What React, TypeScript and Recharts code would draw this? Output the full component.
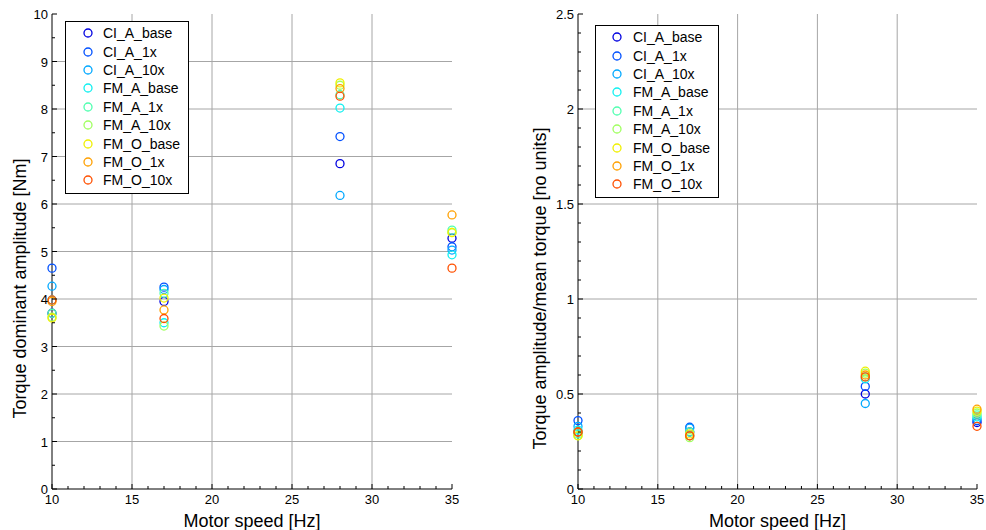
import React from "react";
import { ScatterChart, Scatter, XAxis, YAxis, ReferenceLine } from "recharts";

const speeds = [10, 17, 28, 35];

const seriesNames = [
  "CI_A_base",
  "CI_A_1x",
  "CI_A_10x",
  "FM_A_base",
  "FM_A_1x",
  "FM_A_10x",
  "FM_O_base",
  "FM_O_1x",
  "FM_O_10x",
];

const seriesColors = [
  "#0000e0",
  "#0050ff",
  "#00a8ff",
  "#10f0f0",
  "#50ffb0",
  "#a0ff60",
  "#f0f000",
  "#ffa000",
  "#ff5000",
];

// torque dominant amplitude [Nm], one row per series, one value per speed
const amplitude = [
  [3.7, 3.95, 6.85, 5.28],
  [4.65, 4.25, 7.42, 5.1],
  [4.27, 4.2, 6.18, 5.03],
  [3.98, 3.5, 8.02, 4.93],
  [3.7, 4.12, 8.3, 5.45],
  [3.62, 3.43, 8.5, 5.4],
  [3.6, 4.02, 8.55, 5.4],
  [3.95, 3.77, 8.43, 5.77],
  [3.98, 3.59, 8.27, 4.65],
];

// torque amplitude / mean torque [no units]
const ratio = [
  [0.3, 0.3, 0.5, 0.35],
  [0.36, 0.325, 0.54, 0.36],
  [0.33, 0.32, 0.45, 0.37],
  [0.31, 0.28, 0.58, 0.38],
  [0.29, 0.3, 0.59, 0.39],
  [0.28, 0.27, 0.61, 0.4],
  [0.28, 0.29, 0.62, 0.41],
  [0.3, 0.28, 0.6, 0.42],
  [0.3, 0.28, 0.59, 0.33],
];

const xMajor = [10, 15, 20, 25, 30, 35];
const xMinor = [
  10, 11, 12, 13, 14, 15, 16, 17, 18, 19, 20, 21, 22, 23, 24, 25, 26, 27, 28,
  29, 30, 31, 32, 33, 34, 35,
];
const leftYMajor = [0, 1, 2, 3, 4, 5, 6, 7, 8, 9, 10];
const leftYMinor = [
  0, 0.5, 1, 1.5, 2, 2.5, 3, 3.5, 4, 4.5, 5, 5.5, 6, 6.5, 7, 7.5, 8, 8.5, 9,
  9.5, 10,
];
const rightYMajor = [0, 0.5, 1, 1.5, 2, 2.5];
const rightYMinor = [
  0, 0.1, 0.2, 0.3, 0.4, 0.5, 0.6, 0.7, 0.8, 0.9, 1, 1.1, 1.2, 1.3, 1.4, 1.5,
  1.6, 1.7, 1.8, 1.9, 2, 2.1, 2.2, 2.3, 2.4, 2.5,
];

const FONT = "'Liberation Sans', Arial, sans-serif";
const GRID = "#a6a6a6";

function Ring(props: any) {
  const { cx, cy, fill } = props;
  if (cx == null || cy == null) return null;
  return <circle cx={cx} cy={cy} r={4} fill="none" stroke={fill} strokeWidth={1.3} />;
}

function isMajor(v: number, majors: number[]) {
  return majors.some((m) => Math.abs(m - v) < 1e-9);
}

function LegendBox({ left, top, markerX }: { left: number; top: number; markerX: number }) {
  return (
    <div
      style={{
        position: "absolute",
        left,
        top,
        width: 124,
        border: "1px solid #000",
        background: "#fff",
        padding: "2px 0 3px 0",
        fontFamily: FONT,
        fontSize: 14,
        boxSizing: "border-box",
      }}
    >
      {seriesNames.map((n, i) => (
        <div key={n} style={{ display: "flex", alignItems: "center", height: 18.4 }}>
          <svg width={37} height={14} style={{ flex: "none" }}>
            <circle cx={markerX} cy={7} r={4} fill="none" stroke={seriesColors[i]} strokeWidth={1.3} />
          </svg>
          <span style={{ color: "#000", whiteSpace: "nowrap" }}>{n}</span>
        </div>
      ))}
    </div>
  );
}

function Panel({
  values,
  yMax,
  yMajor,
  yMinor,
  yLabel,
  yWidth,
  yLabelX,
  rightMargin,
  legend,
}: {
  values: number[][];
  yMax: number;
  yMajor: number[];
  yMinor: number[];
  yLabel: string;
  yWidth: number;
  yLabelX: number;
  rightMargin: number;
  legend: { left: number; top: number; markerX: number };
}) {
  const bottomTick = (p: any) => {
    const v = p.payload.value;
    const major = isMajor(v, xMajor);
    return (
      <g>
        <line x1={p.x} y1={p.y} x2={p.x} y2={p.y - (major ? 5 : 3)} stroke="#000" />
        {major && (
          <text x={p.x} y={p.y + 15} textAnchor="middle" fontFamily={FONT} fontSize={13} fill="#000">
            {v}
          </text>
        )}
      </g>
    );
  };
  const topTick = (p: any) => {
    const major = isMajor(p.payload.value, xMajor);
    return <line x1={p.x} y1={p.y} x2={p.x} y2={p.y + (major ? 5 : 3)} stroke="#000" />;
  };
  const leftTick = (p: any) => {
    const v = p.payload.value;
    const major = isMajor(v, yMajor);
    return (
      <g>
        <line x1={p.x} y1={p.y} x2={p.x + (major ? 5 : 3)} y2={p.y} stroke="#000" />
        {major && (
          <text x={p.x - 4} y={p.y + 5} textAnchor="end" fontFamily={FONT} fontSize={13} fill="#000">
            {v}
          </text>
        )}
      </g>
    );
  };
  const rightTick = (p: any) => {
    const major = isMajor(p.payload.value, yMajor);
    return <line x1={p.x} y1={p.y} x2={p.x - (major ? 5 : 3)} y2={p.y} stroke="#000" />;
  };
  const yLabelContent = (p: any) => {
    const vb = p.viewBox || {};
    const cx = (vb.x ?? 0) + yLabelX;
    const cy = (vb.y ?? 0) + (vb.height ?? 0) / 2 + 37;
    return (
      <text
        x={cx}
        y={cy}
        transform={`rotate(-90 ${cx} ${cy})`}
        textAnchor="middle"
        dominantBaseline="central"
        fontFamily={FONT}
        fontSize={18}
        fill="#000"
      >
        {yLabel}
      </text>
    );
  };

  return (
    <div style={{ position: "relative", width: 493, height: 530 }}>
      <ScatterChart
        width={493}
        height={530}
        margin={{ top: 14, right: rightMargin, bottom: 0, left: 0 }}
      >
        {xMajor.slice(1, -1).map((v) => (
          <ReferenceLine key={"x" + v} x={v} stroke={GRID} strokeWidth={1} />
        ))}
        {yMajor.slice(1, -1).map((v) => (
          <ReferenceLine key={"y" + v} y={v} stroke={GRID} strokeWidth={1} />
        ))}
        <XAxis
          type="number"
          dataKey="x"
          domain={[10, 35]}
          ticks={xMinor}
          interval={0}
          height={41}
          stroke="#000"
          tick={bottomTick}
          tickLine={false}
          tickSize={0}
          tickMargin={0}
          label={{
            value: "Motor speed [Hz]",
            position: "insideBottom",
            offset: 3,
            style: { fontFamily: FONT, fontSize: 18, fill: "#000" },
          }}
        />
        <XAxis
          xAxisId="top"
          orientation="top"
          type="number"
          domain={[10, 35]}
          ticks={xMinor}
          interval={0}
          height={0}
          stroke="#000"
          tick={topTick}
          tickLine={false}
          tickSize={0}
          tickMargin={0}
        />
        <YAxis
          type="number"
          dataKey="y"
          domain={[0, yMax]}
          ticks={yMinor}
          interval={0}
          width={yWidth}
          stroke="#000"
          tick={leftTick}
          tickLine={false}
          tickSize={0}
          tickMargin={0}
          label={yLabelContent}
        />
        <YAxis
          yAxisId="right"
          orientation="right"
          type="number"
          domain={[0, yMax]}
          ticks={yMinor}
          interval={0}
          width={0}
          stroke="#000"
          tick={rightTick}
          tickLine={false}
          tickSize={0}
          tickMargin={0}
        />
        {seriesNames.map((name, i) => (
          <Scatter
            key={name}
            name={name}
            data={speeds.map((s, j) => ({ x: s, y: values[i][j] }))}
            fill={seriesColors[i]}
            shape={Ring}
            isAnimationActive={false}
          />
        ))}
      </ScatterChart>
      <LegendBox left={legend.left} top={legend.top} markerX={legend.markerX} />
    </div>
  );
}

export default function App() {
  return (
    <div
      style={{
        position: "absolute",
        left: 0,
        top: 0,
        width: 986,
        height: 530,
        background: "#fff",
        display: "flex",
      }}
    >
      <Panel
        values={amplitude}
        yMax={10}
        yMajor={leftYMajor}
        yMinor={leftYMinor}
        yLabel="Torque dominant amplitude [Nm]"
        yWidth={52}
        yLabelX={20}
        rightMargin={41}
        legend={{ left: 65, top: 21, markerX: 22 }}
      />
      <Panel
        values={ratio}
        yMax={2.5}
        yMajor={rightYMajor}
        yMinor={rightYMinor}
        yLabel="Torque amplitude/mean torque [no units]"
        yWidth={85}
        yLabelX={47}
        rightMargin={9}
        legend={{ left: 102, top: 25, markerX: 21 }}
      />
    </div>
  );
}
